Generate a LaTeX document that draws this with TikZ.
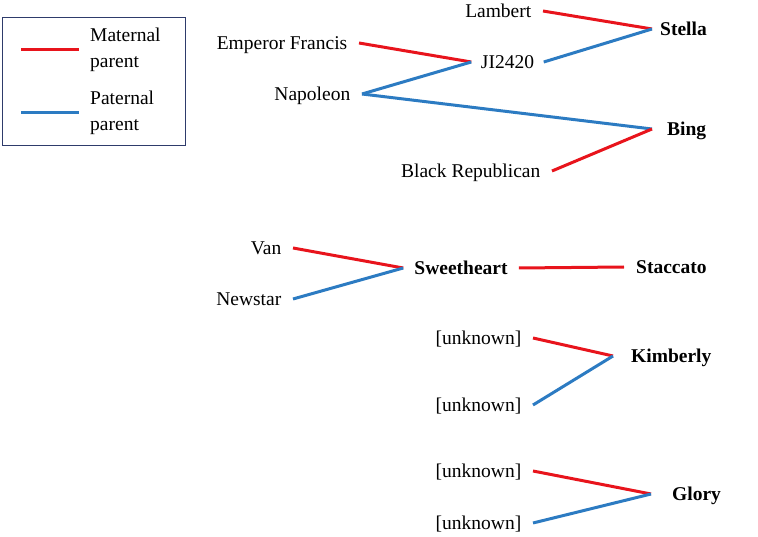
\documentclass[tikz,border=0pt]{standalone}
\usepackage{fontspec}
\setmainfont{Liberation Serif}
\definecolor{matred}{HTML}{E8141C}
\definecolor{patblue}{HTML}{2C7BC2}
\definecolor{boxnavy}{HTML}{2E3B6B}
\begin{document}
\begin{tikzpicture}[x=1pt,y=-1pt,
  lbl/.style={font=\fontsize{19.5}{26}\selectfont, inner ysep=0pt},
  tx/.style={lbl, text height=13.5pt, text depth=0pt},
  par/.style={tx, anchor=east, inner xsep=11.5pt},
  kid/.style={tx, anchor=west, font=\fontsize{19.5}{26}\selectfont\bfseries},
  mat/.style={draw=matred, line width=3pt},
  pat/.style={draw=patblue, line width=3pt}]
\useasboundingbox (0,0) rectangle (758,537);

% legend
\node[draw=boxnavy, line width=1.2pt, minimum width=183pt, minimum height=128pt, anchor=north west, inner sep=0pt] (legend) at (2,17) {};
\coordinate (mA) at (21,50); \coordinate (mB) at (79,50);
\coordinate (pA) at (21,113); \coordinate (pB) at (79,113);
\draw[mat] (mA) -- (mB);
\draw[pat] (pA) -- (pB);
\node[lbl, anchor=west, align=left, inner xsep=0pt] (mattxt) at (90,50) {Maternal\\parent};
\node[lbl, anchor=west, align=left, inner xsep=0pt] (pattxt) at (90,113) {Paternal\\parent};

% Stella / Bing
\node[par] (lambert) at (543,11) {Lambert};
\node[par] (emperor) at (359,43) {Emperor Francis};
\node[tx, inner xsep=9.5pt] (ji) at (507.5,62) {JI2420};
\node[par] (napoleon) at (362,94) {Napoleon};
\node[par] (blackrep) at (552,171) {Black Republican};
\node[kid, inner xsep=8pt] (stella) at (652,29) {Stella};
\node[kid, inner xsep=15pt] (bing) at (652,129) {Bing};
\draw[mat] (lambert.east) -- (stella.west);
\draw[pat] (ji.east) -- (stella.west);
\draw[mat] (emperor.east) -- (ji.west);
\draw[pat] (napoleon.east) -- (ji.west);
\draw[pat] (napoleon.east) -- (bing.west);
\draw[mat] (blackrep.east) -- (bing.west);

% Sweetheart / Staccato
\node[par] (van) at (293,248) {Van};
\node[par] (newstar) at (293,299) {Newstar};
\node[tx, font=\fontsize{19.5}{26}\selectfont\bfseries, inner xsep=11pt] (sweet) at (461,268) {Sweetheart};
\node[kid, inner xsep=12pt] (staccato) at (624,267) {Staccato};
\draw[mat] (van.east) -- (sweet.west);
\draw[pat] (newstar.east) -- (sweet.west);
\draw[mat] (sweet.east) -- (staccato.west);

% Kimberly
\node[par] (unka) at (533,338) {[unknown]};
\node[par] (unkb) at (533,405) {[unknown]};
\node[kid, inner xsep=18pt] (kimberly) at (613,356) {Kimberly};
\draw[mat] (unka.east) -- (kimberly.west);
\draw[pat] (unkb.east) -- (kimberly.west);

% Glory
\node[par] (unkc) at (533,471) {[unknown]};
\node[par] (unkd) at (533,523) {[unknown]};
\node[kid, inner xsep=21pt] (glory) at (651,494) {Glory};
\draw[mat] (unkc.east) -- (glory.west);
\draw[pat] (unkd.east) -- (glory.west);
\end{tikzpicture}
\end{document}
